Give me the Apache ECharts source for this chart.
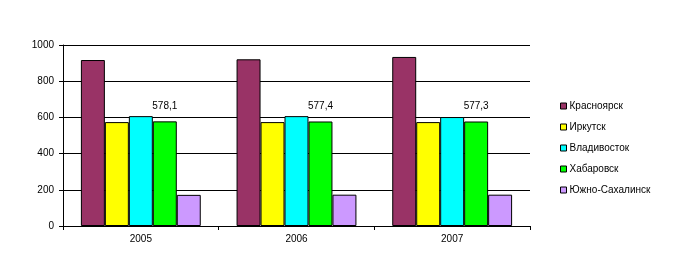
<!DOCTYPE html>
<html>
<head>
<meta charset="utf-8">
<script src="https://cdn.jsdelivr.net/npm/echarts@6/dist/echarts.min.js"></script>
<style>
html,body{margin:0;padding:0;background:#fff;}
#c{width:681px;height:279px;}
</style>
</head>
<body>
<div id="c"></div>
<script>
var years = ['2005', '2006', '2007'];
var yTicks = [0, 200, 400, 600, 800, 1000];
var krasnoyarsk = [917, 921, 934];
var irkutsk = [574, 574, 574];
var vladivostok = [607, 607, 602];
var khabarovsk = [578.1, 577.4, 577.3];
var sakhalinsk = [172, 173, 173];
var names = ['Красноярск', 'Иркутск', 'Владивосток', 'Хабаровск', 'Южно-Сахалинск'];
var colors = ['#993366', '#FFFF00', '#00FFFF', '#00FF00', '#CC99FF'];
var values = [krasnoyarsk, irkutsk, vladivostok, khabarovsk, sakhalinsk];
var labelled = [false, false, false, true, false];

var font = 'Arial, "Liberation Sans", sans-serif';
var series = names.map(function (n, i) {
  return {
    name: n,
    type: 'bar',
    data: values[i],
    barGap: '0%',
    barCategoryGap: '23%',
    itemStyle: { color: colors[i], borderColor: '#000', borderWidth: 1 },
    label: {
      show: labelled[i],
      position: 'top',
      distance: 10,
      color: '#000',
      fontFamily: font,
      fontSize: 10,
      formatter: function (p) { return String(p.value).replace('.', ','); }
    },
    emphasis: { disabled: true }
  };
});

var chart = echarts.init(document.getElementById('c'), null, { renderer: 'canvas' });
chart.setOption({
  animation: false,
  backgroundColor: '#fff',
  textStyle: { fontFamily: font },
  grid: { left: 63, top: 45, width: 467, height: 181, containLabel: false },
  legend: {
    orient: 'vertical',
    left: 555,
    top: 96,
    itemWidth: 6,
    itemHeight: 6,
    itemGap: 11,
    icon: 'rect',
    itemStyle: { borderColor: '#000', borderWidth: 1 },
    textStyle: { fontFamily: font, fontSize: 10, color: '#000', padding: [0, 0, 0, -2] },
    data: names
  },
  xAxis: {
    type: 'category',
    data: years,
    axisLine: { lineStyle: { color: '#000', width: 1 } },
    axisTick: { show: true, length: 4, lineStyle: { color: '#000' } },
    axisLabel: { color: '#000', fontFamily: font, fontSize: 10, margin: 8 },
    splitLine: { show: false }
  },
  yAxis: {
    type: 'value',
    min: yTicks[0],
    max: yTicks[yTicks.length - 1],
    interval: yTicks[1] - yTicks[0],
    axisLine: { show: true, onZero: false, lineStyle: { color: '#000', width: 1 } },
    axisTick: { show: true, length: 4, lineStyle: { color: '#000' } },
    axisLabel: { color: '#000', fontFamily: font, fontSize: 10, margin: 9,
      formatter: function (v) { return String(v); } },
    splitLine: { show: true, lineStyle: { color: '#000', width: 1 } }
  },
  series: series
});
</script>
</body>
</html>
